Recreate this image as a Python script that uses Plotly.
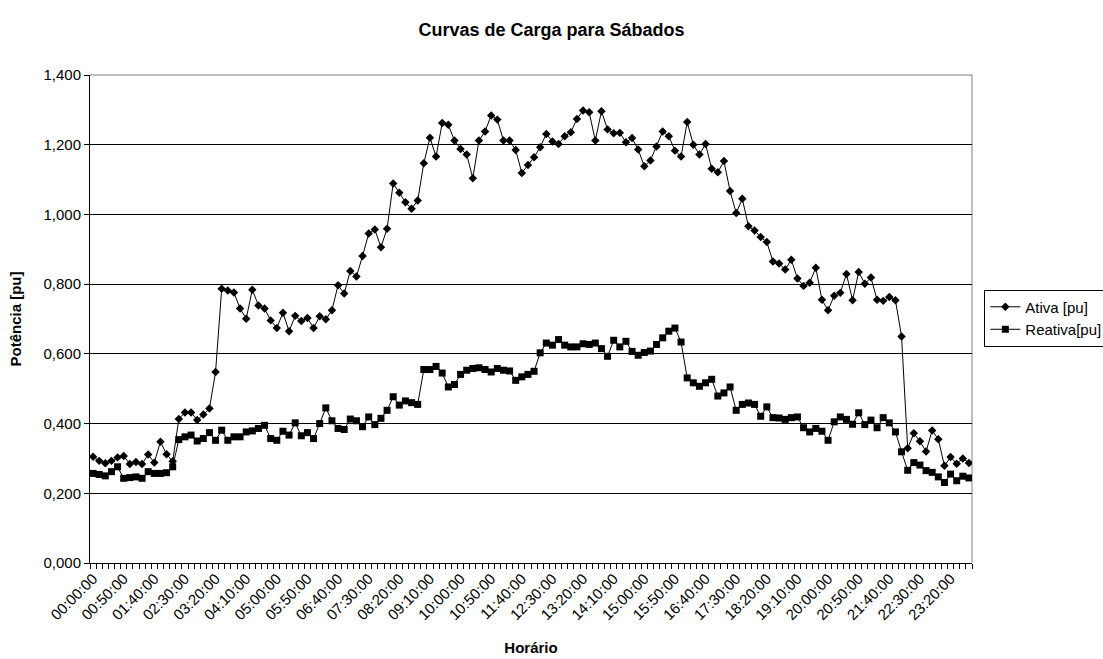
import plotly.graph_objects as go

# 10-minute sampling over one day (categories of the x axis)
horarios = [f"{h:02d}:{m:02d}:00" for h in range(24) for m in range(0, 60, 10)]

# Active power [pu]
ativa = [
    0.305, 0.293, 0.286, 0.293, 0.303, 0.307, 0.284, 0.290, 0.284, 0.311,
    0.288, 0.348, 0.312, 0.292, 0.413, 0.432, 0.432, 0.410, 0.426, 0.443,
    0.548, 0.787, 0.782, 0.776, 0.730, 0.701, 0.784, 0.739, 0.730, 0.696,
    0.674, 0.718, 0.665, 0.709, 0.694, 0.703, 0.674, 0.708, 0.699, 0.725,
    0.797, 0.773, 0.838, 0.822, 0.881, 0.945, 0.957, 0.906, 0.959, 1.089,
    1.062, 1.035, 1.016, 1.040, 1.147, 1.220, 1.166, 1.262, 1.257, 1.212,
    1.188, 1.172, 1.104, 1.212, 1.238, 1.284, 1.272, 1.212, 1.212, 1.185,
    1.119, 1.142, 1.164, 1.193, 1.231, 1.209, 1.202, 1.224, 1.236, 1.274,
    1.298, 1.293, 1.212, 1.296, 1.244, 1.233, 1.234, 1.207, 1.219, 1.186,
    1.138, 1.155, 1.195, 1.238, 1.224, 1.183, 1.166, 1.265, 1.200, 1.172,
    1.202, 1.131, 1.121, 1.153, 1.067, 1.004, 1.045, 0.966, 0.954, 0.935,
    0.921, 0.865, 0.859, 0.842, 0.870, 0.816, 0.795, 0.804, 0.847, 0.755,
    0.725, 0.767, 0.775, 0.829, 0.754, 0.835, 0.801, 0.819, 0.755, 0.752,
    0.763, 0.754, 0.650, 0.329, 0.372, 0.349, 0.320, 0.380, 0.355, 0.279,
    0.304, 0.285, 0.300, 0.287,
]

# Reactive power [pu]
reativa = [
    0.257, 0.254, 0.250, 0.262, 0.276, 0.243, 0.245, 0.247, 0.243, 0.262,
    0.257, 0.257, 0.259, 0.276, 0.354, 0.362, 0.367, 0.350, 0.357, 0.374,
    0.352, 0.381, 0.352, 0.362, 0.362, 0.376, 0.379, 0.386, 0.395, 0.357,
    0.352, 0.378, 0.367, 0.402, 0.365, 0.374, 0.357, 0.400, 0.445, 0.408,
    0.386, 0.383, 0.413, 0.408, 0.391, 0.419, 0.397, 0.415, 0.438, 0.477,
    0.453, 0.465, 0.460, 0.455, 0.555, 0.555, 0.564, 0.545, 0.505, 0.512,
    0.541, 0.553, 0.558, 0.560, 0.555, 0.548, 0.558, 0.553, 0.551, 0.524,
    0.534, 0.541, 0.550, 0.603, 0.631, 0.625, 0.641, 0.625, 0.620, 0.620,
    0.629, 0.627, 0.631, 0.615, 0.593, 0.639, 0.620, 0.636, 0.607, 0.596,
    0.604, 0.608, 0.627, 0.646, 0.665, 0.674, 0.634, 0.531, 0.517, 0.507,
    0.517, 0.527, 0.479, 0.488, 0.505, 0.438, 0.455, 0.459, 0.455, 0.421,
    0.448, 0.417, 0.416, 0.412, 0.417, 0.419, 0.388, 0.376, 0.386, 0.378,
    0.352, 0.405, 0.419, 0.412, 0.398, 0.431, 0.397, 0.410, 0.388, 0.417,
    0.402, 0.376, 0.319, 0.266, 0.288, 0.281, 0.265, 0.260, 0.247, 0.231,
    0.255, 0.236, 0.249, 0.244,
]

# every 5th time slot gets a label
label_step = 5
pos = list(range(len(horarios)))
tick_pos = pos[::label_step]
tick_txt = horarios[::label_step]

FONT = "Arial, Liberation Sans, sans-serif"

fig = go.Figure()
fig.add_trace(go.Scatter(
    x=pos, y=ativa, name="Ativa [pu]", mode="lines+markers",
    line=dict(color="black", width=1),
    marker=dict(symbol="diamond", size=6.5, color="black"),
    customdata=horarios,
))
fig.add_trace(go.Scatter(
    x=pos, y=reativa, name="Reativa[pu]", mode="lines+markers",
    line=dict(color="black", width=1),
    marker=dict(symbol="square", size=7, color="black"),
    customdata=horarios,
))

# grey plot-area frame on the top and right sides
fig.add_shape(type="line", xref="paper", yref="paper", x0=0, x1=1, y0=1, y1=1,
              line=dict(color="#808080", width=1), layer="between")
fig.add_shape(type="line", xref="paper", yref="paper", x0=1, x1=1, y0=0, y1=1,
              line=dict(color="#808080", width=1), layer="between")

fig.update_layout(
    width=1103, height=659,
    margin=dict(l=90, r=131, t=75, b=96, autoexpand=False),
    paper_bgcolor="white", plot_bgcolor="white",
    separators=",.",
    font=dict(family=FONT, size=15, color="black"),
    title=dict(text="Curvas de Carga para Sábados", x=0.5, xref="container",
               y=1 - 30 / 659, yref="container", yanchor="middle", xanchor="center",
               font=dict(family=FONT, size=18, color="black", weight="bold")),
    showlegend=True,
    legend=dict(x=1.014, xanchor="left", y=0.502, yanchor="middle",
                bordercolor="black", borderwidth=1, bgcolor="white",
                font=dict(family=FONT, size=15, color="black"),
                itemwidth=30, tracegroupgap=0),
    xaxis=dict(
        range=[-0.5, len(horarios) - 0.5],
        tickmode="array", tickvals=tick_pos, ticktext=tick_txt,
        tickangle=-45, ticks="", showgrid=False, zeroline=False,
        showline=True, linecolor="black", linewidth=1,
        tickfont=dict(family=FONT, size=15, color="black"),
        minor=dict(ticks="outside", tick0=-0.5, dtick=1, ticklen=5,
                   tickcolor="black", tickwidth=1, showgrid=False),
        title=dict(text="Horário", standoff=20,
                   font=dict(family=FONT, size=15, color="black", weight="bold")),
        automargin=False,
    ),
    yaxis=dict(
        range=[0, 1.4], tickmode="linear", tick0=0, dtick=0.2,
        tickformat=".3f", ticks="outside", ticklen=5, tickcolor="black",
        showgrid=True, gridcolor="black", gridwidth=1, zeroline=False,
        showline=True, linecolor="black", linewidth=1,
        tickfont=dict(family=FONT, size=15, color="black"),
        title=dict(text="Potência [pu]", standoff=18,
                   font=dict(family=FONT, size=15, color="black", weight="bold")),
        automargin=False,
    ),
)

fig.write_html("out.html")
